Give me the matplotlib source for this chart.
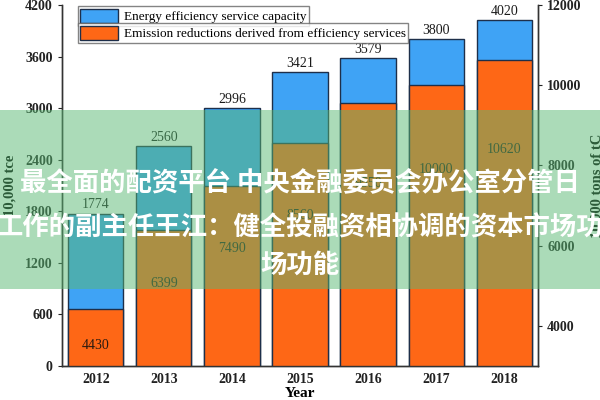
import matplotlib
matplotlib.use("Agg")
import matplotlib.pyplot as plt
from matplotlib.patches import Patch, Rectangle

years = ["2012", "2013", "2014", "2015", "2016", "2017", "2018"]
capacity = [1774, 2560, 2996, 3421, 3579, 3800, 4020]
reductions = [4430, 6399, 7490, 8560, 9550, 10000, 10620]
left_ticks = [0, 600, 1200, 1800, 2400, 3000, 3600, 4200]
right_ticks = [4000, 6000, 8000, 10000, 12000]
legend_labels = ["Energy efficiency service capacity",
                 "Emission reductions derived from efficiency services"]
overlay_lines = ["最全面的配资平台 中央金融委员会办公室分管日",
                 "工作的副主任王江：健全投融资相协调的资本市场功",
                 "场功能"]

serif = ["Liberation Serif", "DejaVu Serif"]
plt.rcParams["font.family"] = serif

blue = "#3fa3f5"
orange = "#fe6716"
edge = "#1e2f4a"

fig = plt.figure(figsize=(6, 4), dpi=100)
ax = fig.add_axes([0.103, 0.085, 0.794, 0.9025])
ax2 = ax.twinx()

x = list(range(len(years)))
w = 0.81
ax.bar(x, capacity, width=w, color=blue, edgecolor=edge, linewidth=1.0, zorder=2)
ax2.bar(x, reductions, width=w, bottom=0, color=orange, edgecolor=edge, linewidth=1.0, zorder=2)

ax.set_ylim(0, 4200)
ax2.set_ylim(3000, 12000)
ax.set_xlim(-0.5, 6.5)
ax.set_yticks(left_ticks)
ax2.set_yticks(right_ticks)
ax.set_xticks(x)
ax.set_xticklabels(years)

for xi, v in zip(x, capacity):
    ax.text(xi, v + 25, str(v), ha="center", va="bottom", fontsize=10, color="#1a1a1a")
for xi, v in zip(x, reductions):
    ax2.text(xi, v * 0.79, str(v), ha="center", va="center", fontsize=10, color="#2a1a10")

for a in (ax, ax2):
    a.spines["top"].set_visible(False)
    for s in a.spines.values():
        s.set_color("#333333")
        s.set_linewidth(1.0)
ax.tick_params(axis="y", direction="out", length=3, labelsize=10, colors="#222222")
ax.tick_params(axis="x", direction="in", length=3, labelsize=10, colors="#222222", pad=5)
ax2.tick_params(axis="y", direction="out", length=3, labelsize=10, colors="#222222")
for lab in ax.get_xticklabels() + ax.get_yticklabels() + ax2.get_yticklabels():
    lab.set_fontweight("bold")

ax.set_xlabel("Year", fontsize=11, fontweight="bold", labelpad=1)
ax.set_ylabel("10,000 tce", fontsize=10.5, fontweight="bold", labelpad=6)
ax2.set_ylabel("10,000 tons of tC", fontsize=10.5, fontweight="bold", labelpad=6)

ax.set_zorder(ax2.get_zorder() - 1)
ax2.patch.set_visible(False)

h1 = [Patch(facecolor=blue, edgecolor=edge)]
h2 = [Patch(facecolor=orange, edgecolor=edge)]
common = dict(fontsize=9.5, frameon=True, fancybox=False, edgecolor="#666666",
              borderpad=0.2, handlelength=2.9, handleheight=1.2, handletextpad=0.4,
              borderaxespad=0)
leg1 = ax2.legend(h1, legend_labels[:1], loc="upper left", bbox_to_anchor=(0.033, 0.996), **common)
leg1.get_frame().set_linewidth(1.0)
ax2.add_artist(leg1)
leg2 = ax2.legend(h2, legend_labels[1:], loc="upper left", bbox_to_anchor=(0.033, 0.949), **common)
leg2.get_frame().set_linewidth(1.0)

# overlay banner
fig.patches.append(Rectangle((0, 0.2775), 1, 0.4475, transform=fig.transFigure,
                             facecolor=(0.35, 0.72, 0.45), alpha=0.5, edgecolor="none",
                             zorder=10))
ys = [0.5425, 0.43, 0.3375]
for line, yy in zip(overlay_lines, ys):
    fig.text(0.5, yy, line, ha="center", va="center", fontsize=19, fontweight="bold",
             color="white", family=["Noto Sans CJK SC", "DejaVu Sans"], zorder=11)

fig.savefig("out.png", dpi=100)
